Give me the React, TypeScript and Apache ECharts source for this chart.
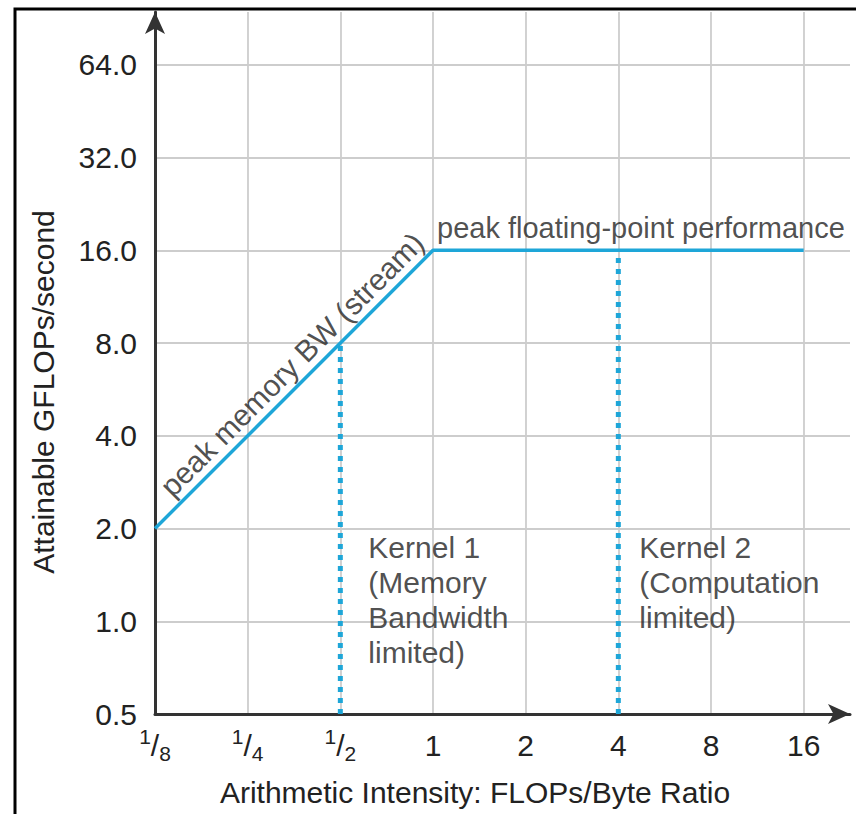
import React, { useEffect, useRef } from 'react';
import * as echarts from 'echarts';

// ---- Data (natural units; axes are drawn on a log2 scale) ----
const xTickValues = [1 / 8, 1 / 4, 1 / 2, 1, 2, 4, 8, 16];
const xTickLabels = ['1/8', '1/4', '1/2', '1', '2', '4', '8', '16'];
const yTickValues = [0.5, 1, 2, 4, 8, 16, 32, 64];
const yTickLabels = ['0.5', '1.0', '2.0', '4.0', '8.0', '16.0', '32.0', '64.0'];

const rooflineIntensity = [1 / 8, 1, 16];
const rooflinePerformance = [2, 16, 16];

const kernelIntensity = [1 / 2, 4];
const kernelPerformance = [8, 16];
const kernelTexts = ['Kernel 1\n(Memory\nBandwidth\nlimited)', 'Kernel 2\n(Computation\nlimited)'];
const kernelTextLevel = 2;
const axisFloor = 0.5;

const xAxisMaxValue = Math.pow(2, 4.5);
const yAxisMaxValue = Math.pow(2, 6.57);

const memoryLabel = 'peak memory BW (stream)';
const computeLabel = 'peak floating-point performance';
const xTitle = 'Arithmetic Intensity: FLOPs/Byte Ratio';
const yTitle = 'Attainable GFLOPs/second';

const lg = Math.log2;
const FONT = '"Liberation Sans", Arial, Helvetica, sans-serif';
const TEXT = '#222222';
const BLUE = '#1ea6d8';

export default function App() {
  const ref = useRef<HTMLDivElement>(null);

  useEffect(() => {
    if (!ref.current) return;
    const chart = echarts.init(ref.current, undefined, { renderer: 'svg' });

    const roofData = rooflineIntensity.map((x, i) => [lg(x), lg(rooflinePerformance[i])]);
    const memMid = [
      (lg(rooflineIntensity[0]) + lg(rooflineIntensity[1])) / 2,
      (lg(rooflinePerformance[0]) + lg(rooflinePerformance[1])) / 2,
    ];

    const kernelSeries = kernelIntensity.map((x, i) => ({
      type: 'line',
      symbol: 'none',
      silent: true,
      z: 2,
      lineStyle: { color: BLUE, width: 5, type: [5, 6], cap: 'butt' },
      data: [
        [lg(x), lg(axisFloor)],
        [lg(x), lg(kernelPerformance[i])],
      ],
    }));

    const kernelOffsets = [28, 21];

    const axisLine = {
      show: true,
      onZero: false,
      lineStyle: { color: '#333', width: 3 },
      symbol: ['none', 'arrow'],
      symbolSize: [15, 22],
      symbolOffset: [0, 0],
    };
    const splitLine = {
      show: true,
      showMinLine: false,
      showMaxLine: false,
      lineStyle: { color: '#cdcdcd', width: 1.8 },
    };

    const option: any = {
      animation: false,
      textStyle: { fontFamily: FONT },
      grid: { left: 155, right: 6, top: 12, bottom: 100, containLabel: false },
      xAxis: {
        type: 'value',
        min: lg(xTickValues[0]),
        max: lg(xAxisMaxValue),
        interval: 1,
        axisLine,
        axisTick: { show: false },
        splitLine,
        axisLabel: {
          margin: 12,
          showMaxLabel: false,
          color: TEXT,
          formatter: (v: number) => {
            const i = xTickValues.findIndex((t) => Math.abs(lg(t) - v) < 1e-6);
            if (i < 0) return '';
            const s = xTickLabels[i];
            if (s.includes('/')) {
              const [a, b] = s.split('/');
              return `{sup|${a}}{sl|/}{sub|${b}}`;
            }
            return `{n|${s}}`;
          },
          rich: {
            sup: { fontSize: 21, color: TEXT, fontFamily: FONT, verticalAlign: 'top' },
            sub: { fontSize: 21, color: TEXT, fontFamily: FONT, verticalAlign: 'bottom' },
            sl: { fontSize: 30, color: TEXT, fontFamily: FONT, lineHeight: 38 },
            n: { fontSize: 30, color: TEXT, fontFamily: FONT, lineHeight: 38 },
          },
        },
      },
      yAxis: {
        type: 'value',
        min: lg(yTickValues[0]),
        max: lg(yAxisMaxValue),
        interval: 1,
        axisLine,
        axisTick: { show: false },
        splitLine,
        axisLabel: {
          margin: 18,
          showMaxLabel: false,
          color: TEXT,
          fontSize: 30,
          fontFamily: FONT,
          formatter: (v: number) => {
            const i = yTickValues.findIndex((t) => Math.abs(lg(t) - v) < 1e-6);
            return i < 0 ? '' : yTickLabels[i];
          },
        },
      },
      series: [
        ...kernelSeries,
        {
          type: 'line',
          symbol: 'none',
          silent: true,
          z: 3,
          lineStyle: { color: BLUE, width: 3.5 },
          data: roofData,
        },
        {
          type: 'scatter',
          symbolSize: 0,
          silent: true,
          z: 4,
          data: [
            {
              value: memMid,
              label: {
                show: true,
                formatter: memoryLabel,
                rotate: 45,
                position: [-2, -25],
                align: 'center',
                verticalAlign: 'middle',
                fontSize: 30,
                fontFamily: FONT,
                color: TEXT,
              },
            },
            {
              value: roofData[1],
              label: {
                show: true,
                formatter: computeLabel,
                position: [4, -22],
                align: 'left',
                verticalAlign: 'middle',
                fontSize: 29,
                fontFamily: FONT,
                color: TEXT,
              },
            },
            ...kernelIntensity.map((x, i) => ({
              value: [lg(x), lg(kernelTextLevel)],
              label: {
                show: true,
                formatter: kernelTexts[i],
                position: [kernelOffsets[i], 1],
                align: 'left',
                verticalAlign: 'top',
                fontSize: 30,
                lineHeight: 35,
                fontFamily: FONT,
                color: TEXT,
              },
            })),
          ],
        },
      ],
      graphic: [
        {
          type: 'rect',
          silent: true,
          shape: { x: 15, y: 9, width: 1000, height: 1000 },
          style: { fill: 'none', stroke: '#000', lineWidth: 3 },
        },
        {
          type: 'text',
          silent: true,
          x: 475,
          y: 792,
          style: { text: xTitle, fontSize: 30, fontFamily: FONT, fill: TEXT, align: 'center', verticalAlign: 'middle' },
        },
        {
          type: 'text',
          silent: true,
          x: 43,
          y: 392,
          rotation: Math.PI / 2,
          style: { text: yTitle, fontSize: 30, fontFamily: FONT, fill: TEXT, align: 'center', verticalAlign: 'middle' },
        },
      ],
    };

    chart.setOption(option);
    return () => chart.dispose();
  }, []);

  return (
    <div
      ref={ref}
      style={{ position: 'absolute', left: 0, top: 0, width: 856, height: 814, background: '#fff' }}
    />
  );
}
